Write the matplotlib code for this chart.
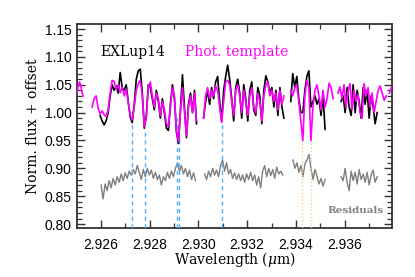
import numpy as np
import matplotlib
matplotlib.use("Agg")
import matplotlib.pyplot as plt
from matplotlib.ticker import MultipleLocator

# ---- data ----
# template (magenta) segments: (start, end) wavelength and flux values
tmpl_a_rng = (2.92501, 2.92526)
tmpl_a = [1.035, 1.048, 1.055, 1.050, 1.038, 1.030]

tmpl_b_rng = (2.92563, 2.92992)
tmpl_b = [1.010, 1.025, 1.030, 1.008, 0.998, 1.003, 0.996, 0.993, 1.005, 1.035,
          1.058, 1.056, 1.042, 1.050, 1.036, 1.046, 1.030, 1.042, 1.018, 0.995,
          0.987, 1.010, 1.040, 1.052, 1.058, 1.030, 0.975, 0.990, 1.045, 1.055,
          1.030, 1.010, 1.035, 1.025, 0.995, 1.020, 1.005, 0.980, 0.975, 1.010,
          1.045, 1.030, 0.968, 0.948, 1.000, 1.045, 1.000, 0.958, 1.010, 1.030,
          1.000, 1.035, 0.985]

tmpl_c_rng = (2.93021, 2.93351)
tmpl_c = [0.990, 1.030, 1.045, 1.025, 1.040, 1.030, 1.048, 1.040, 1.010, 0.982,
          1.020, 1.055, 1.058, 1.050, 1.020, 0.995, 1.040, 1.050, 1.030, 1.000,
          1.040, 1.020, 0.995, 1.030, 1.045, 1.010, 1.000, 1.035, 1.020, 0.985,
          1.030, 1.050, 1.055, 1.030, 1.040, 1.020, 1.035, 1.005, 1.040, 1.015,
          1.030]

tmpl_d_rng = (2.93379, 2.93553)
tmpl_d = [1.040, 1.030, 1.045, 1.050, 1.020, 0.985, 0.950, 1.030, 1.058, 1.045,
          0.950, 1.010, 1.040, 1.050, 1.030, 1.005, 1.040, 1.010, 1.025, 1.053,
          1.045, 1.025]

tmpl_e_rng = (2.93573, 2.93771)
tmpl_e = [1.035, 1.046, 1.025, 1.050, 1.010, 1.038, 1.052, 1.005, 1.040, 1.020,
          1.032, 1.000, 0.990, 1.052, 1.030, 1.045, 1.010, 1.035, 1.000, 1.020,
          1.040, 1.048, 1.035, 1.022, 1.030]

tmpl_f_rng = (2.93784, 2.93800)
tmpl_f = [1.035, 1.045, 1.040]

# observed spectrum (black)
obs_b_rng = (2.92596, 2.92992)
obs_b = [0.995, 0.985, 0.978, 0.985, 1.000, 1.030, 1.050, 1.040, 1.048, 1.035,
         1.072, 1.045, 1.040, 1.050, 1.020, 0.992, 0.982, 1.015, 1.060, 1.075,
         1.078, 1.035, 0.972, 0.995, 1.050, 1.045, 1.025, 1.005, 1.040, 1.020,
         0.990, 1.025, 1.000, 0.972, 0.968, 1.015, 1.050, 1.025, 0.965, 0.945,
         1.005, 1.068, 1.010, 0.955, 1.015, 1.035, 1.000, 1.040, 0.980]

obs_c_rng = (2.93021, 2.93351)
obs_c = [0.990, 1.020, 1.040, 1.015, 1.045, 1.025, 1.055, 1.065, 1.020, 0.985,
         1.040, 1.065, 1.085, 1.060, 1.025, 0.985, 1.045, 1.060, 1.035, 0.990,
         1.050, 1.025, 0.985, 1.040, 1.055, 1.005, 0.995, 1.045, 1.030, 0.980,
         1.040, 1.066, 1.055, 1.035, 1.045, 1.010, 1.040, 0.995, 1.045, 1.010,
         0.990]

obs_d_rng = (2.93379, 2.93520)
obs_d = [1.020, 1.070, 1.045, 1.065, 1.025, 1.000, 1.000, 1.040, 1.065, 1.075,
         1.010, 1.020, 1.030, 1.015, 1.025, 0.995, 1.030, 0.970]

obs_e_rng = (2.93586, 2.93734)
obs_e = [1.020, 1.030, 1.000, 1.045, 1.010, 0.995, 1.050, 1.000, 1.040, 1.020,
         0.990, 1.045, 1.015, 1.040, 0.990, 1.030, 1.010, 0.980, 1.000]

# residuals (grey)
res_a_rng = (2.92600, 2.92988)
res_a = [0.870, 0.845, 0.872, 0.860, 0.878, 0.865, 0.882, 0.870, 0.885, 0.875,
         0.890, 0.878, 0.892, 0.882, 0.895, 0.888, 0.898, 0.890, 0.905, 0.893,
         0.880, 0.898, 0.885, 0.900, 0.888, 0.897, 0.882, 0.893, 0.880, 0.888,
         0.870, 0.885, 0.878, 0.893, 0.882, 0.895, 0.885, 0.900, 0.910, 0.895,
         0.905, 0.890, 0.900, 0.885, 0.897, 0.880, 0.892, 0.878]

res_b_rng = (2.93025, 2.93346)
res_b = [0.890, 0.880, 0.895, 0.885, 0.900, 0.888, 0.897, 0.885, 0.905, 0.915,
         0.895, 0.910, 0.890, 0.898, 0.882, 0.892, 0.880, 0.890, 0.878, 0.888,
         0.875, 0.890, 0.880, 0.893, 0.878, 0.888, 0.870, 0.885, 0.865, 0.895,
         0.905, 0.885, 0.900, 0.887, 0.898, 0.882, 0.902, 0.890, 0.895, 0.888]

res_c_rng = (2.93388, 2.93520)
res_c = [0.915, 0.900, 0.910, 0.893, 0.905, 0.885, 0.908, 0.915, 0.925, 0.900,
         0.880, 0.898, 0.885, 0.872, 0.882, 0.868, 0.880]

res_d_rng = (2.93586, 2.93734)
res_d = [0.885, 0.878, 0.900, 0.875, 0.860, 0.895, 0.878, 0.893, 0.872, 0.898,
         0.880, 0.890, 0.875, 0.893, 0.870, 0.888, 0.897, 0.875, 0.885]

# marked lines: wavelength and top of the marker
blue_lines = [2.92727, 2.92779, 2.92912, 2.92919, 2.93096]
blue_tops = [0.985, 0.965, 0.990, 0.990, 0.980]
orange_lines = [2.93427, 2.93462]
orange_tops = [0.950, 0.950]

xlim = (2.92501, 2.93795)
ylim = (0.793, 1.159)


def seg(rng, vals):
    return np.linspace(rng[0], rng[1], len(vals)), np.array(vals)


plt.rcParams['font.family'] = 'Liberation Sans'
plt.rcParams['mathtext.fontset'] = 'dejavuserif'

fig = plt.figure(figsize=(4.15, 2.77), dpi=100)
ax = fig.add_axes([0.1855, 0.1769, 0.7591, 0.7365])

for rng, vals in [(res_a_rng, res_a), (res_b_rng, res_b),
                  (res_c_rng, res_c), (res_d_rng, res_d)]:
    x, y = seg(rng, vals)
    ax.plot(x, y, color='#7f7f7f', lw=1.0, zorder=2)

ax.vlines(blue_lines, ylim[0], blue_tops, colors='#55b0f8', lw=1.0,
          linestyles=(0, (3, 2.5)), zorder=3)
ax.vlines(orange_lines, ylim[0], orange_tops, colors='#ffc896', lw=1.0,
          linestyles=(0, (1, 1.5)), zorder=3)

for rng, vals in [(obs_b_rng, obs_b), (obs_c_rng, obs_c),
                  (obs_d_rng, obs_d), (obs_e_rng, obs_e)]:
    x, y = seg(rng, vals)
    ax.plot(x, y, color='black', lw=1.2, zorder=4)

for rng, vals in [(tmpl_a_rng, tmpl_a), (tmpl_b_rng, tmpl_b), (tmpl_c_rng, tmpl_c),
                  (tmpl_d_rng, tmpl_d), (tmpl_e_rng, tmpl_e), (tmpl_f_rng, tmpl_f)]:
    x, y = seg(rng, vals)
    ax.plot(x, y, color='#ff00ff', lw=1.2, zorder=5)

ax.set_xlim(*xlim)
ax.set_ylim(*ylim)
ax.xaxis.set_major_locator(MultipleLocator(0.002))
ax.xaxis.set_minor_locator(MultipleLocator(0.001))
ax.yaxis.set_major_locator(MultipleLocator(0.05))
ax.yaxis.set_minor_locator(MultipleLocator(0.01))
ax.xaxis.set_major_formatter(plt.FormatStrFormatter('%.3f'))
ax.yaxis.set_major_formatter(plt.FormatStrFormatter('%.2f'))
ax.tick_params(which='both', direction='in', top=True, right=True,
               labelsize=10, color='#333333')
ax.tick_params(which='major', length=6, width=1.0, pad=7)
ax.tick_params(which='minor', length=3.5, width=0.9)
ax.tick_params(axis='y', which='major', pad=4)
for sp in ax.spines.values():
    sp.set_linewidth(1.3)
    sp.set_color('#333333')

ax.set_xlabel(r'Wavelength ($\mu$m)', family='DejaVu Serif', fontsize=10, labelpad=-1)
ax.set_ylabel('Norm. flux + offset', family='DejaVu Serif', fontsize=10, labelpad=3)

ax.text(2.92596, 1.108, 'EXLup14', family='DejaVu Serif', fontsize=10,
        color='black', va='center')
ax.text(2.92946, 1.108, 'Phot. template', family='DejaVu Serif', fontsize=10,
        color='#ff00ff', va='center')
ax.text(2.93528, 0.824, 'Residuals', family='DejaVu Serif', fontsize=7.5,
        color='#808080', fontweight='semibold', va='center')

fig.savefig('out.png', dpi=100)
